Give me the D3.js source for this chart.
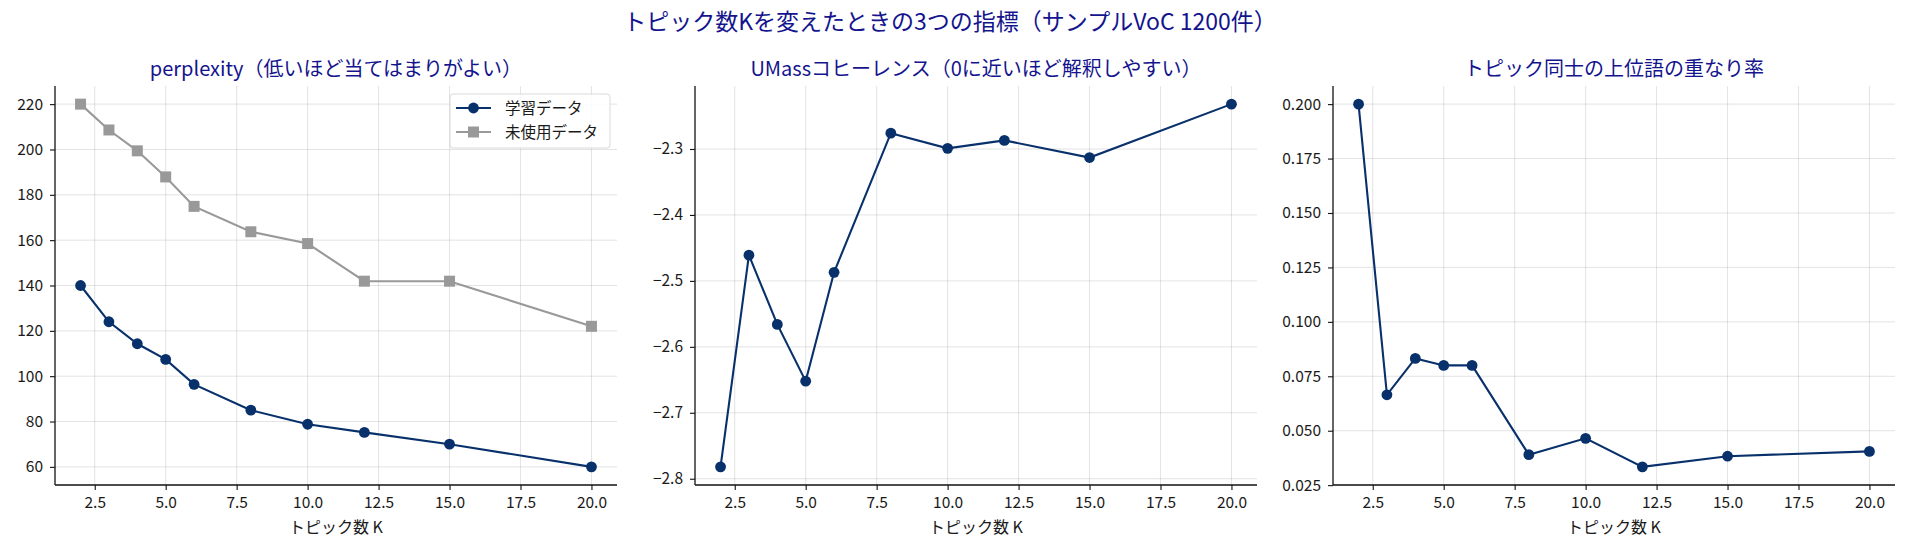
<!DOCTYPE html>
<html>
<head>
<meta charset="utf-8">
<script src="https://cdn.jsdelivr.net/npm/d3@7"></script>
<style>
  body { margin: 0; background: #fff; }
  svg text { font-family: "Noto Sans CJK JP", "Noto Sans", sans-serif; fill: #1a1a1a; }
</style>
</head>
<body>
<div id="chart"></div>
<script>
// topic counts K
const topics = [2, 3, 4, 5, 6, 8, 10, 12, 15, 20]
// perplexity
const trainPerplexity = [140, 124, 114.3, 107.4, 96.4, 85.0, 78.8, 75.2, 70.0, 60.0]
const heldoutPerplexity = [220, 208.6, 199.4, 187.9, 174.9, 163.7, 158.5, 141.9, 141.9, 122]
// UMass coherence
const umass = [-2.782, -2.461, -2.566, -2.652, -2.487, -2.276, -2.299, -2.287, -2.313, -2.232]
// overlap ratio of top words between topics
const overlap = [0.200, 0.0665, 0.0832, 0.080, 0.080, 0.039, 0.0465, 0.0334, 0.0383, 0.0405]

const xTicks = [2.5, 5, 7.5, 10, 12.5, 15, 17.5, 20]
const perpTicks = [60, 80, 100, 120, 140, 160, 180, 200, 220]
const umassTicks = [-2.8, -2.7, -2.6, -2.5, -2.4, -2.3]
const overlapTicks = [0.025, 0.05, 0.075, 0.1, 0.125, 0.15, 0.175, 0.2]

const suptitle = 'トピック数Kを変えたときの3つの指標（サンプルVoC 1200件）'
const titles = ['perplexity（低いほど当てはまりがよい）', 'UMassコヒーレンス（0に近いほど解釈しやすい）', 'トピック同士の上位語の重なり率']
const xLabel = 'トピック数 K'
const legendLabels = ['学習データ', '未使用データ']

const navy = '#08306b'
const gray = '#999999'
const titleColor = '#14148e'

const width = 1907
const height = 547
const plotTop = 86
const plotBottom = 485
const panelLefts = [55, 695, 1333]
const panelWidth = 562

const svg = d3.select('#chart').append('svg')
  .attr('width', width)
  .attr('height', height)

svg.append('text')
  .attr('x', 950)
  .attr('y', 30)
  .attr('text-anchor', 'middle')
  .style('font-size', '23px')
  .style('fill', titleColor)
  .text(suptitle)

// matplotlib style 5% margins
function padded (values) {
  const [lo, hi] = d3.extent(values)
  const m = (hi - lo) * 0.05
  return [lo - m, hi + m]
}

const minus = (s) => s.replace('-', '\u2212')

function drawPanel (i, series, yTicks, yFormat) {
  const left = panelLefts[i]
  const g = svg.append('g')
  const x = d3.scaleLinear().domain(padded(topics)).range([left, left + panelWidth])
  const allY = [].concat(...series.map(s => s.values))
  const y = d3.scaleLinear().domain(padded(allY)).range([plotBottom, plotTop])

  // grid
  g.append('g').selectAll('line').data(xTicks).enter().append('line')
    .attr('x1', d => x(d)).attr('x2', d => x(d))
    .attr('y1', plotTop).attr('y2', plotBottom)
    .attr('stroke', '#b0b0b0').attr('stroke-opacity', 0.35).attr('stroke-width', 1)
  g.append('g').selectAll('line').data(yTicks).enter().append('line')
    .attr('x1', left).attr('x2', left + panelWidth)
    .attr('y1', d => y(d)).attr('y2', d => y(d))
    .attr('stroke', '#b0b0b0').attr('stroke-opacity', 0.35).attr('stroke-width', 1)

  // axes
  const xAxis = g.append('g')
    .attr('transform', 'translate(0,' + plotBottom + ')')
    .call(d3.axisBottom(x).tickValues(xTicks).tickFormat(d3.format('.1f')).tickSizeOuter(0).tickSize(5).tickPadding(7))
  const yAxis = g.append('g')
    .attr('transform', 'translate(' + left + ',0)')
    .call(d3.axisLeft(y).tickValues(yTicks).tickFormat(d => minus(yFormat(d))).tickSizeOuter(0).tickSize(5).tickPadding(7))
  ;[xAxis, yAxis].forEach(a => {
    a.select('.domain').attr('stroke', '#111').attr('stroke-width', 1.3)
    a.selectAll('.tick line').attr('stroke', '#111').attr('stroke-width', 1.1)
    a.selectAll('.tick text').style('font-size', '15.5px').style('fill', '#1a1a1a')
  })
  // extend domains to the full axes box
  xAxis.select('.domain').attr('d', 'M' + left + ',0H' + (left + panelWidth))
  yAxis.select('.domain').attr('d', 'M0,' + plotBottom + 'V' + plotTop)

  // lines and markers
  series.forEach(s => {
    const pts = topics.map((k, j) => [k, s.values[j]])
    g.append('path')
      .attr('d', d3.line().x(d => x(d[0])).y(d => y(d[1]))(pts))
      .attr('fill', 'none')
      .attr('stroke', s.color)
      .attr('stroke-width', 2.1)
    if (s.marker === 'square') {
      g.append('g').selectAll('rect').data(pts).enter().append('rect')
        .attr('x', d => x(d[0]) - 5.5).attr('y', d => y(d[1]) - 5.5)
        .attr('width', 11).attr('height', 11)
        .attr('fill', s.color)
    } else {
      g.append('g').selectAll('circle').data(pts).enter().append('circle')
        .attr('cx', d => x(d[0])).attr('cy', d => y(d[1]))
        .attr('r', 5.4)
        .attr('fill', s.color)
    }
  })

  g.append('text')
    .attr('x', left + panelWidth / 2)
    .attr('y', 76)
    .attr('text-anchor', 'middle')
    .style('font-size', '20px')
    .style('fill', titleColor)
    .text(titles[i])

  g.append('text')
    .attr('x', left + panelWidth / 2)
    .attr('y', 533)
    .attr('text-anchor', 'middle')
    .style('font-size', '16px')
    .text(xLabel)
  return g
}

const p1 = drawPanel(0, [
  {values: trainPerplexity, color: navy, marker: 'circle'},
  {values: heldoutPerplexity, color: gray, marker: 'square'}
], perpTicks, d3.format('d'))
drawPanel(1, [{values: umass, color: navy, marker: 'circle'}], umassTicks, d3.format('.1f'))
drawPanel(2, [{values: overlap, color: navy, marker: 'circle'}], overlapTicks, d3.format('.3f'))

// legend
const legend = p1.append('g').attr('transform', 'translate(450,94)')
legend.append('rect')
  .attr('width', 160).attr('height', 54).attr('rx', 3)
  .attr('fill', 'white').attr('fill-opacity', 0.85)
  .attr('stroke', '#d9d9d9').attr('stroke-width', 1)
;[{color: navy, marker: 'circle'}, {color: gray, marker: 'square'}].forEach((s, i) => {
  const yy = 14 + i * 24
  legend.append('line')
    .attr('x1', 6).attr('x2', 41).attr('y1', yy).attr('y2', yy)
    .attr('stroke', s.color).attr('stroke-width', 2.1)
  if (s.marker === 'square') {
    legend.append('rect').attr('x', 18).attr('y', yy - 5.5).attr('width', 11).attr('height', 11).attr('fill', s.color)
  } else {
    legend.append('circle').attr('cx', 23.5).attr('cy', yy).attr('r', 5.4).attr('fill', s.color)
  }
  legend.append('text')
    .attr('x', 55).attr('y', yy + 5.5)
    .style('font-size', '15.5px')
    .text(legendLabels[i])
})
</script>
</body>
</html>
